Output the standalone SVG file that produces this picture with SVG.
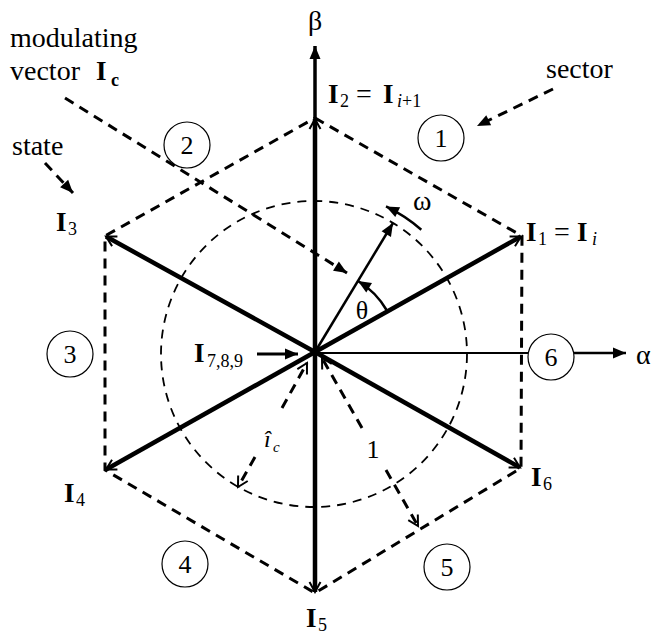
<svg xmlns="http://www.w3.org/2000/svg" width="657" height="635" viewBox="0 0 657 635" font-family="'Liberation Serif', 'Times New Roman', 'DejaVu Serif', serif">
<style>
text{font-family:'Liberation Serif','Times New Roman','DejaVu Serif',serif;fill:#000}
.t{font-size:28px}
.b{font-size:27px;font-weight:bold}
.s{font-size:18px}
.hex{fill:none;stroke:#000;stroke-width:3;stroke-dasharray:10 7}
.circ{fill:none;stroke:#000;stroke-width:1.8;stroke-dasharray:9 7}
.vec{stroke:#000;stroke-width:4.5;fill:none;marker-end:url(#open)}
.dsh{stroke:#000;stroke-width:3;fill:none;stroke-dasharray:10 7}
.sc{fill:#fff;stroke:#000;stroke-width:1.2}
.num{font-size:26px;text-anchor:middle}
</style>
<defs>
<marker id="open" viewBox="-13 -8 15 16" refX="0" refY="0" markerWidth="15" markerHeight="16" markerUnits="userSpaceOnUse" orient="auto-start-reverse">
<path d="M-10,-5.5 L0,0 L-10,5.5" fill="none" stroke="#000" stroke-width="2"/>
</marker>
<marker id="fill" viewBox="-15 -7 16 14" refX="0" refY="0" markerWidth="16" markerHeight="14" markerUnits="userSpaceOnUse" orient="auto">
<path d="M-13,-5.5 L0,0 L-13,5.5 Z" fill="#000"/>
</marker>
</defs>

<g id="hexagon">
<polygon class="hex" points="315,118 522,236 521,468 315,593 105,470 105,236"/>
</g>
<g id="unit-circle">
<circle class="circ" cx="314" cy="354" r="153"/>
</g>

<g id="axes">
<line x1="315" y1="352" x2="315" y2="46" stroke="#000" stroke-width="3.5" marker-end="url(#fill)"/>
<line x1="315" y1="353" x2="530" y2="353" stroke="#000" stroke-width="1.8"/>
<line x1="572" y1="353" x2="626" y2="353" stroke="#000" stroke-width="2.5" marker-end="url(#fill)"/>
</g>

<g id="vectors">
<line class="vec" x1="315" y1="352" x2="521" y2="236.5"/>
<line class="vec" x1="315" y1="352" x2="315" y2="119"/>
<line class="vec" x1="315" y1="352" x2="106" y2="236.5"/>
<line class="vec" x1="315" y1="352" x2="106" y2="469.5"/>
<line class="vec" x1="315" y1="352" x2="315" y2="592"/>
<line class="vec" x1="315" y1="352" x2="520" y2="467.5"/>
<line id="Ic" x1="315" y1="352" x2="393" y2="223" stroke="#000" stroke-width="2.5" marker-end="url(#fill)"/>
</g>

<g id="connectors">
<line id="state-arrow" class="dsh" x1="45" y1="163" x2="73" y2="193" marker-end="url(#fill)"/>
<line id="sector-arrow" class="dsh" x1="553" y1="89" x2="477" y2="126" marker-end="url(#fill)"/>
<line id="mod-arrow" class="dsh" x1="65" y1="98" x2="347" y2="273" marker-end="url(#fill)"/>
<line id="I789-arrow" x1="257" y1="354" x2="298" y2="354" stroke="#000" stroke-width="3" marker-end="url(#fill)"/>
<g id="ic-arrow">
<line class="dsh" x1="282" y1="408" x2="307" y2="363" marker-end="url(#open)"/>
<line class="dsh" x1="255" y1="457" x2="238" y2="487" marker-end="url(#open)"/>
</g>
<g id="one-arrow">
<line class="dsh" x1="362" y1="428" x2="322" y2="358" marker-end="url(#open)"/>
<line class="dsh" x1="386" y1="470" x2="418" y2="526" marker-end="url(#open)"/>
</g>
<path id="omega-arc" d="M421.3,229.7 A162,162 0 0 0 386,206.4" fill="none" stroke="#000" stroke-width="2.5" marker-end="url(#fill)"/>
<path id="theta-arc" d="M386.9,310.5 A83,83 0 0 0 358,281" fill="none" stroke="#000" stroke-width="2.5" marker-end="url(#fill)"/>
</g>

<g id="sectors">
<g id="sector1"><circle class="sc" cx="441" cy="138" r="23"/><text class="num" x="441" y="147">1</text></g>
<g id="sector2"><circle class="sc" cx="187" cy="145" r="23"/><text class="num" x="187" y="154">2</text></g>
<g id="sector3"><circle class="sc" cx="70" cy="354" r="23"/><text class="num" x="70" y="363">3</text></g>
<g id="sector4"><circle class="sc" cx="185" cy="564" r="23"/><text class="num" x="185" y="573">4</text></g>
<g id="sector5"><circle class="sc" cx="447" cy="567" r="23"/><text class="num" x="447" y="576">5</text></g>
<g id="sector6"><circle class="sc" cx="551" cy="357" r="23"/><text class="num" x="551" y="366">6</text></g>
</g>

<g id="labels">
<text class="t" x="315" y="30" text-anchor="middle">β</text>
<text class="t" x="636" y="364">α</text>
<text class="t" x="10" y="47">modulating</text>
<text class="t" x="10" y="80">vector</text>
<text class="b" x="96" y="80">I</text><text class="s" x="111" y="86" font-weight="bold">c</text>
<text class="t" x="12" y="155">state</text>
<text class="t" x="546" y="78">sector</text>

<g id="I2"><text class="b" x="328" y="103">I</text><text class="s" x="340" y="107">2</text><text class="t" x="356" y="103">=</text><text class="b" x="383" y="103">I</text><text class="s" x="397" y="107"><tspan font-style="italic">i</tspan>+1</text></g>
<g id="I1"><text class="b" x="526" y="241">I</text><text class="s" x="538" y="245">1</text><text class="t" x="554" y="241">=</text><text class="b" x="577" y="241">I</text><text class="s" x="592" y="245" font-style="italic">i</text></g>
<g id="I3"><text class="b" x="56" y="231">I</text><text class="s" x="68" y="235">3</text></g>
<g id="I4"><text class="b" x="64" y="502">I</text><text class="s" x="76" y="506">4</text></g>
<g id="I5"><text class="b" x="306" y="627">I</text><text class="s" x="318" y="631">5</text></g>
<g id="I6"><text class="b" x="531" y="486">I</text><text class="s" x="543" y="490">6</text></g>
<g id="I789"><text class="b" x="194" y="362">I</text><text class="s" x="207" y="367">7,8,9</text></g>
<g id="ic-label"><text x="264" y="447" font-size="24" font-style="italic">î</text><text x="273" y="452" font-size="15" font-style="italic">c</text></g>
<text class="num" x="373" y="458">1</text>
<text class="num" x="362" y="319">θ</text>
<text class="t" x="413" y="210">ω</text>
</g>
</svg>
